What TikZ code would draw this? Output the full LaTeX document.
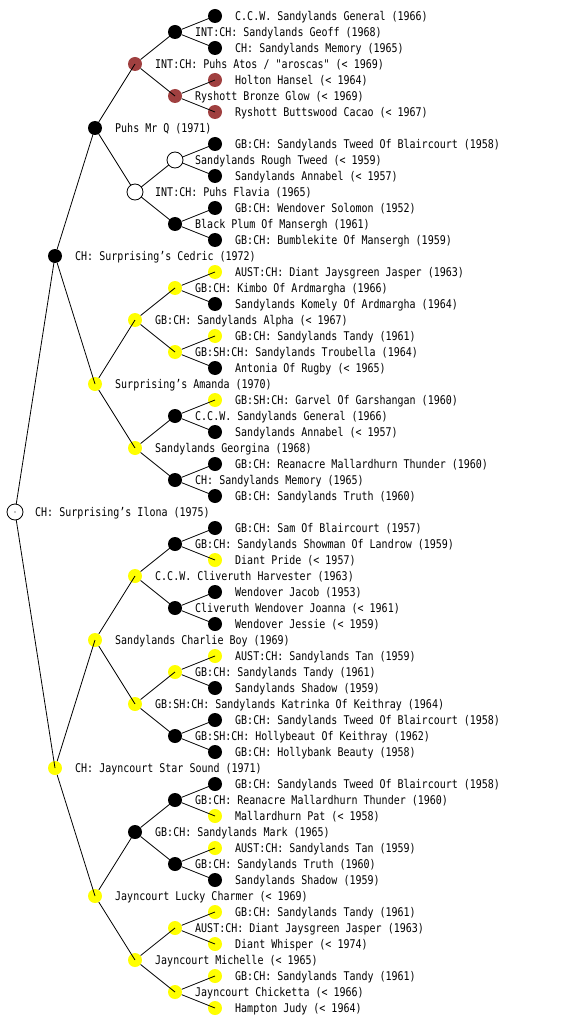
\documentclass[tikz,border=0pt]{standalone}
\usepackage{fontspec}
\setmonofont{DejaVu Sans Mono}[FakeStretch=0.833]
\definecolor{brn}{RGB}{160,64,64}
\definecolor{yel}{RGB}{255,255,0}
\tikzset{
  dog/.style={circle, inner sep=0pt, minimum size=14pt},
  blk/.style={dog, fill=black},
  yl/.style={dog, fill=yel},
  br/.style={dog, fill=brn},
  wh/.style={circle, inner sep=0pt, minimum size=16pt, draw=black, line width=0.8pt, fill=white},
  lbl/.style={anchor=base west, inner sep=0pt, font=\ttfamily\fontsize{12}{14}\selectfont},
  edge/.style={draw=black, line width=0.8pt}
}
\newcommand\pn[4]{%
  \node[#3] (n#1) at ({15+40*#2},{16*#1}) {};
  \node[lbl] (t#1) at ({35+40*#2},{16*#1+4.4}) {#4};}
\begin{document}
\begin{tikzpicture}[x=1pt,y=-1pt]
\useasboundingbox[fill=white] (0,0) rectangle (560,1024);
% coloured and black nodes
\pn{1}{5}{blk}{C.C.W. Sandylands General (1966)}
\pn{2}{4}{blk}{INT:CH: Sandylands Geoff (1968)}
\pn{3}{5}{blk}{CH: Sandylands Memory (1965)}
\pn{4}{3}{br}{INT:CH: Puhs Atos / "aroscas" (< 1969)}
\pn{5}{5}{br}{Holton Hansel (< 1964)}
\pn{6}{4}{br}{Ryshott Bronze Glow (< 1969)}
\pn{7}{5}{br}{Ryshott Buttswood Cacao (< 1967)}
\pn{8}{2}{blk}{Puhs Mr Q (1971)}
\pn{9}{5}{blk}{GB:CH: Sandylands Tweed Of Blaircourt (1958)}
\pn{11}{5}{blk}{Sandylands Annabel (< 1957)}
\pn{13}{5}{blk}{GB:CH: Wendover Solomon (1952)}
\pn{14}{4}{blk}{Black Plum Of Mansergh (1961)}
\pn{15}{5}{blk}{GB:CH: Bumblekite Of Mansergh (1959)}
\pn{16}{1}{blk}{CH: Surprising’s Cedric (1972)}
\pn{17}{5}{yl}{AUST:CH: Diant Jaysgreen Jasper (1963)}
\pn{18}{4}{yl}{GB:CH: Kimbo Of Ardmargha (1966)}
\pn{19}{5}{blk}{Sandylands Komely Of Ardmargha (1964)}
\pn{20}{3}{yl}{GB:CH: Sandylands Alpha (< 1967)}
\pn{21}{5}{yl}{GB:CH: Sandylands Tandy (1961)}
\pn{22}{4}{yl}{GB:SH:CH: Sandylands Troubella (1964)}
\pn{23}{5}{blk}{Antonia Of Rugby (< 1965)}
\pn{24}{2}{yl}{Surprising’s Amanda (1970)}
\pn{25}{5}{yl}{GB:SH:CH: Garvel Of Garshangan (1960)}
\pn{26}{4}{blk}{C.C.W. Sandylands General (1966)}
\pn{27}{5}{blk}{Sandylands Annabel (< 1957)}
\pn{28}{3}{yl}{Sandylands Georgina (1968)}
\pn{29}{5}{blk}{GB:CH: Reanacre Mallardhurn Thunder (1960)}
\pn{30}{4}{blk}{CH: Sandylands Memory (1965)}
\pn{31}{5}{blk}{GB:CH: Sandylands Truth (1960)}
\pn{33}{5}{blk}{GB:CH: Sam Of Blaircourt (1957)}
\pn{34}{4}{blk}{GB:CH: Sandylands Showman Of Landrow (1959)}
\pn{35}{5}{yl}{Diant Pride (< 1957)}
\pn{36}{3}{yl}{C.C.W. Cliveruth Harvester (1963)}
\pn{37}{5}{blk}{Wendover Jacob (1953)}
\pn{38}{4}{blk}{Cliveruth Wendover Joanna (< 1961)}
\pn{39}{5}{blk}{Wendover Jessie (< 1959)}
\pn{40}{2}{yl}{Sandylands Charlie Boy (1969)}
\pn{41}{5}{yl}{AUST:CH: Sandylands Tan (1959)}
\pn{42}{4}{yl}{GB:CH: Sandylands Tandy (1961)}
\pn{43}{5}{blk}{Sandylands Shadow (1959)}
\pn{44}{3}{yl}{GB:SH:CH: Sandylands Katrinka Of Keithray (1964)}
\pn{45}{5}{blk}{GB:CH: Sandylands Tweed Of Blaircourt (1958)}
\pn{46}{4}{blk}{GB:SH:CH: Hollybeaut Of Keithray (1962)}
\pn{47}{5}{blk}{GB:CH: Hollybank Beauty (1958)}
\pn{48}{1}{yl}{CH: Jayncourt Star Sound (1971)}
\pn{49}{5}{blk}{GB:CH: Sandylands Tweed Of Blaircourt (1958)}
\pn{50}{4}{blk}{GB:CH: Reanacre Mallardhurn Thunder (1960)}
\pn{51}{5}{yl}{Mallardhurn Pat (< 1958)}
\pn{52}{3}{blk}{GB:CH: Sandylands Mark (1965)}
\pn{53}{5}{yl}{AUST:CH: Sandylands Tan (1959)}
\pn{54}{4}{blk}{GB:CH: Sandylands Truth (1960)}
\pn{55}{5}{blk}{Sandylands Shadow (1959)}
\pn{56}{2}{yl}{Jayncourt Lucky Charmer (< 1969)}
\pn{57}{5}{yl}{GB:CH: Sandylands Tandy (1961)}
\pn{58}{4}{yl}{AUST:CH: Diant Jaysgreen Jasper (1963)}
\pn{59}{5}{yl}{Diant Whisper (< 1974)}
\pn{60}{3}{yl}{Jayncourt Michelle (< 1965)}
\pn{61}{5}{yl}{GB:CH: Sandylands Tandy (1961)}
\pn{62}{4}{yl}{Jayncourt Chicketta (< 1966)}
\pn{63}{5}{yl}{Hampton Judy (< 1964)}
% white nodes: positions first as coordinates, drawn after edges
\coordinate (n32) at (15,512);
\coordinate (n12) at (135,192);
\coordinate (n10) at (175,160);
% edges
\foreach \p/\c in {32/16,32/48,
  16/8,16/24,48/40,48/56,
  8/4,8/12,24/20,24/28,40/36,40/44,56/52,56/60,
  4/2,4/6,12/10,12/14,20/18,20/22,28/26,28/30,36/34,36/38,44/42,44/46,52/50,52/54,60/58,60/62,
  2/1,2/3,6/5,6/7,10/9,10/11,14/13,14/15,18/17,18/19,22/21,22/23,26/25,26/27,30/29,30/31,
  34/33,34/35,38/37,38/39,42/41,42/43,46/45,46/47,50/49,50/51,54/53,54/55,58/57,58/59,62/61,62/63}
  \draw[edge] (n\p) -- (n\c.center);
% white nodes
\node[wh] (w32) at (n32) {};
\fill[black] (w32.center) circle (0.7pt);
\node[lbl] (t32) at (35,516.4) {CH: Surprising’s Ilona (1975)};
\node[wh] (w12) at (n12) {};
\node[lbl] (t12) at (155,196.4) {INT:CH: Puhs Flavia (1965)};
\node[wh] (w10) at (n10) {};
\node[lbl] (t10) at (195,164.4) {Sandylands Rough Tweed (< 1959)};
\end{tikzpicture}
\end{document}
